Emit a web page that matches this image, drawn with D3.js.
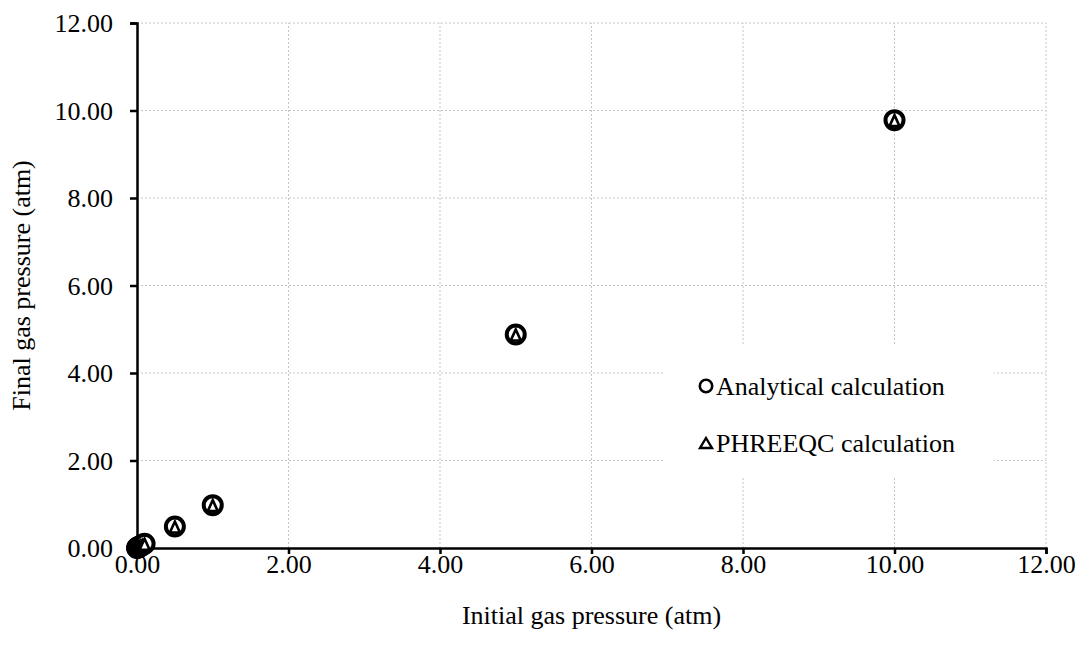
<!DOCTYPE html>
<html>
<head>
<meta charset="utf-8">
<script src="https://cdn.jsdelivr.net/npm/d3@7"></script>
<style>
  html, body { margin: 0; padding: 0; background: #fff; }
</style>
</head>
<body>
<svg id="chart" width="1078" height="650"></svg>
<script>
// Initial vs. final gas pressure (atm)
const initialPressure = [0.001, 0.005, 0.01, 0.02, 0.03, 0.05, 0.07, 0.1, 0.5, 1, 5, 10];
const analyticalFinal = [0.001, 0.005, 0.0098, 0.0196, 0.029, 0.049, 0.068, 0.098, 0.49, 0.98, 4.88, 9.78];
const phreeqcFinal    = [0.001, 0.005, 0.0098, 0.0196, 0.029, 0.049, 0.068, 0.098, 0.49, 0.98, 4.88, 9.78];
const tickValues = [0, 2, 4, 6, 8, 10, 12];
const seriesNames = ["Analytical calculation", "PHREEQC calculation"];
const xTitle = "Initial gas pressure (atm)";
const yTitle = "Final gas pressure (atm)";

const FONT = "'Liberation Serif'";
const FS = "26px";
const svg = d3.select("#chart");
const margin = { left: 137, right: 1046, top: 23, bottom: 548 };

const x = d3.scaleLinear().domain([0, 12]).range([margin.left, margin.right]);
const y = d3.scaleLinear().domain([0, 12]).range([margin.bottom, margin.top]);

// dashed grid
const grid = svg.append("g").attr("stroke", "#c4c4c4").attr("stroke-width", 1).attr("stroke-dasharray", "2,2");
tickValues.filter(d => d > 0).forEach(d => {
  grid.append("line").attr("x1", x(d)).attr("x2", x(d)).attr("y1", y(0)).attr("y2", y(12));
  grid.append("line").attr("x1", x(0)).attr("x2", x(12)).attr("y1", y(d)).attr("y2", y(d));
});

// axes
const xAxis = d3.axisBottom(x).tickValues(tickValues).tickFormat(d3.format(".2f")).tickSizeInner(6).tickSizeOuter(6).tickPadding(1);
const yAxis = d3.axisLeft(y).tickValues(tickValues).tickFormat(d3.format(".2f")).tickSizeInner(7).tickSizeOuter(7).tickPadding(17);

const gx = svg.append("g").attr("transform", `translate(0,${y(0)})`).call(xAxis);
const gy = svg.append("g").attr("transform", `translate(${x(0)},0)`).call(yAxis);
[gx, gy].forEach(g => {
  g.select(".domain").attr("stroke", "#000").attr("stroke-width", 2.5);
  g.selectAll(".tick line").attr("stroke", "#000").attr("stroke-width", 2.5);
  g.selectAll(".tick text").attr("fill", "#000").style("font-family", FONT).style("font-size", FS);
});
gy.selectAll(".tick text").attr("dy", "0.34em");

// axis titles
svg.append("text").attr("x", (x(0) + x(12)) / 2).attr("y", 624).attr("text-anchor", "middle")
  .style("font-family", FONT).style("font-size", FS).attr("fill", "#000").text(xTitle);
svg.append("text").attr("transform", `translate(30,${(y(0) + y(12)) / 2}) rotate(-90)`).attr("text-anchor", "middle")
  .style("font-family", FONT).style("font-size", FS).attr("fill", "#000").text(yTitle);

// upward triangle centred on the origin
const tri = (w, h) => `M0,${-h / 2} L${w / 2},${h / 2} L${-w / 2},${h / 2} Z`;

// data markers: circle (analytical) with triangle (PHREEQC) inside
const pts = svg.append("g");
pts.selectAll("circle.an").data(initialPressure).join("circle")
  .attr("class", "an")
  .attr("cx", d => x(d)).attr("cy", (d, i) => y(analyticalFinal[i]))
  .attr("r", 9).attr("fill", "#fff").attr("stroke", "#000").attr("stroke-width", 4);
pts.selectAll("path.ph").data(initialPressure).join("path")
  .attr("class", "ph")
  .attr("transform", (d, i) => `translate(${x(d)},${y(phreeqcFinal[i]) + 0.5})`)
  .attr("d", tri(10, 11)).attr("fill", "#fff").attr("stroke", "#000").attr("stroke-width", 2.6)
  .attr("stroke-linejoin", "miter");

// legend
const lg = svg.append("g");
lg.append("rect").attr("x", 664).attr("y", 345).attr("width", 330).attr("height", 133).attr("fill", "#fff");
lg.append("circle").attr("cx", 706).attr("cy", 386).attr("r", 6.2).attr("fill", "none").attr("stroke", "#000").attr("stroke-width", 2.6);
lg.append("path").attr("transform", "translate(706,443)").attr("d", tri(12, 10)).attr("fill", "none").attr("stroke", "#000").attr("stroke-width", 2.4);
lg.append("text").attr("x", 716).attr("y", 395).style("font-family", FONT).style("font-size", FS).attr("fill", "#000").text(seriesNames[0]);
lg.append("text").attr("x", 716).attr("y", 452).style("font-family", FONT).style("font-size", FS).attr("fill", "#000").text(seriesNames[1]);
</script>
</body>
</html>
